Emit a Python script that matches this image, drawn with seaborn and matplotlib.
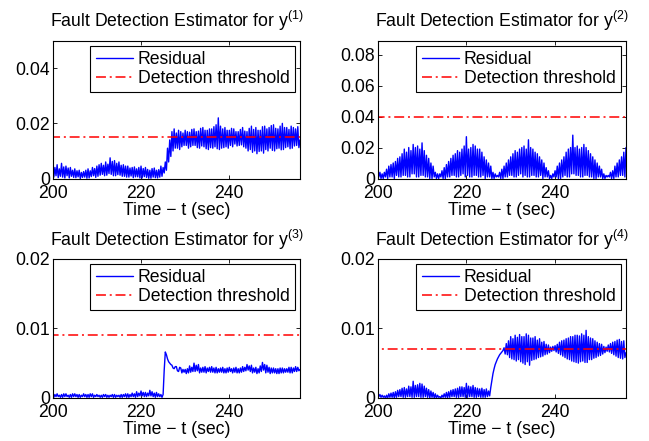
import numpy as np
import pandas as pd
import matplotlib
matplotlib.use("Agg")
import matplotlib.pyplot as plt
from matplotlib.ticker import FuncFormatter
import seaborn as sns

# ---- data, one row = one second, 4 samples ----
t_start = 200.0
t_step = 0.25
x_limits = (200, 256)
x_ticks = [200, 220, 240]

residual_y1 = [
    0.0045, 0.0005, 0.0040, 0.0010,
    0.0050, 0.0003, 0.0035, 0.0008,
    0.0055, 0.0005, 0.0042, 0.0002,
    0.0045, 0.0010, 0.0038, 0.0002,
    0.0040, 0.0008, 0.0030, 0.0004,
    0.0035, 0.0003, 0.0028, 0.0006,
    0.0030, 0.0000, 0.0022, 0.0004,
    0.0025, 0.0005, 0.0030, 0.0001,
    0.0035, 0.0002, 0.0028, 0.0007,
    0.0040, 0.0010, 0.0036, 0.0004,
    0.0045, 0.0008, 0.0050, 0.0012,
    0.0055, 0.0015, 0.0048, 0.0010,
    0.0060, 0.0012, 0.0052, 0.0018,
    0.0075, 0.0015, 0.0062, 0.0010,
    0.0065, 0.0010, 0.0055, 0.0014,
    0.0060, 0.0012, 0.0048, 0.0008,
    0.0050, 0.0008, 0.0045, 0.0005,
    0.0045, 0.0005, 0.0038, 0.0009,
    0.0040, 0.0003, 0.0042, 0.0006,
    0.0035, 0.0006, 0.0040, 0.0002,
    0.0045, 0.0002, 0.0036, 0.0007,
    0.0040, 0.0004, 0.0033, 0.0001,
    0.0030, 0.0001, 0.0036, 0.0005,
    0.0038, 0.0003, 0.0030, 0.0002,
    0.0032, 0.0005, 0.0045, 0.0008,
    0.0040, 0.0020, 0.0060, 0.0030,
    0.0110, 0.0060, 0.0140, 0.0080,
    0.0170, 0.0100, 0.0180, 0.0110,
    0.0165, 0.0110, 0.0175, 0.0105,
    0.0170, 0.0115, 0.0165, 0.0120,
    0.0175, 0.0120, 0.0170, 0.0110,
    0.0168, 0.0115, 0.0178, 0.0120,
    0.0180, 0.0120, 0.0170, 0.0112,
    0.0172, 0.0110, 0.0182, 0.0118,
    0.0185, 0.0115, 0.0175, 0.0108,
    0.0175, 0.0105, 0.0180, 0.0112,
    0.0180, 0.0110, 0.0188, 0.0115,
    0.0195, 0.0108, 0.0220, 0.0105,
    0.0190, 0.0110, 0.0180, 0.0112,
    0.0185, 0.0115, 0.0175, 0.0110,
    0.0175, 0.0120, 0.0182, 0.0115,
    0.0180, 0.0125, 0.0170, 0.0118,
    0.0170, 0.0120, 0.0178, 0.0122,
    0.0185, 0.0115, 0.0172, 0.0110,
    0.0170, 0.0100, 0.0182, 0.0105,
    0.0190, 0.0095, 0.0178, 0.0100,
    0.0185, 0.0090, 0.0175, 0.0098,
    0.0175, 0.0100, 0.0188, 0.0092,
    0.0190, 0.0105, 0.0180, 0.0100,
    0.0185, 0.0110, 0.0192, 0.0102,
    0.0195, 0.0100, 0.0182, 0.0108,
    0.0180, 0.0110, 0.0190, 0.0104,
    0.0200, 0.0105, 0.0185, 0.0112,
    0.0185, 0.0115, 0.0178, 0.0108,
    0.0190, 0.0110, 0.0185, 0.0118,
    0.0180, 0.0120, 0.0188, 0.0112,
    0.0140,
]

residual_y2 = [
    0.006, 0.001, 0.004, 0.000,
    0.003, 0.000, 0.004, 0.001,
    0.006, 0.000, 0.008, 0.001,
    0.009, 0.001, 0.010, 0.000,
    0.011, 0.002, 0.013, 0.001,
    0.014, 0.001, 0.016, 0.002,
    0.019, 0.002, 0.017, 0.001,
    0.020, 0.001, 0.018, 0.003,
    0.022, 0.003, 0.020, 0.001,
    0.021, 0.001, 0.019, 0.002,
    0.023, 0.002, 0.018, 0.001,
    0.015, 0.001, 0.013, 0.000,
    0.010, 0.000, 0.008, 0.001,
    0.004, 0.000, 0.003, 0.000,
    0.003, 0.001, 0.005, 0.000,
    0.007, 0.000, 0.009, 0.001,
    0.011, 0.001, 0.013, 0.002,
    0.015, 0.002, 0.016, 0.001,
    0.018, 0.001, 0.017, 0.002,
    0.019, 0.003, 0.021, 0.001,
    0.027, 0.002, 0.019, 0.001,
    0.020, 0.001, 0.022, 0.002,
    0.021, 0.002, 0.019, 0.001,
    0.019, 0.001, 0.017, 0.002,
    0.014, 0.000, 0.012, 0.001,
    0.010, 0.001, 0.008, 0.000,
    0.004, 0.000, 0.003, 0.001,
    0.002, 0.001, 0.004, 0.000,
    0.006, 0.000, 0.008, 0.001,
    0.010, 0.001, 0.012, 0.002,
    0.014, 0.002, 0.016, 0.001,
    0.018, 0.001, 0.017, 0.002,
    0.019, 0.003, 0.020, 0.001,
    0.021, 0.002, 0.019, 0.001,
    0.025, 0.001, 0.020, 0.002,
    0.019, 0.002, 0.017, 0.001,
    0.016, 0.001, 0.014, 0.002,
    0.012, 0.000, 0.010, 0.001,
    0.007, 0.001, 0.005, 0.000,
    0.002, 0.000, 0.003, 0.001,
    0.005, 0.001, 0.008, 0.000,
    0.010, 0.000, 0.012, 0.001,
    0.014, 0.002, 0.017, 0.001,
    0.019, 0.001, 0.020, 0.003,
    0.028, 0.003, 0.020, 0.002,
    0.021, 0.002, 0.019, 0.001,
    0.020, 0.001, 0.022, 0.002,
    0.020, 0.002, 0.018, 0.001,
    0.016, 0.001, 0.014, 0.000,
    0.012, 0.000, 0.010, 0.001,
    0.008, 0.001, 0.006, 0.000,
    0.003, 0.000, 0.002, 0.001,
    0.002, 0.001, 0.004, 0.000,
    0.005, 0.000, 0.008, 0.001,
    0.010, 0.001, 0.012, 0.002,
    0.014, 0.002, 0.017, 0.001,
    0.020,
]

residual_y3 = [
    0.0008, 0.0001, 0.0005, 0.0002,
    0.0006, 0.0002, 0.0004, 0.0001,
    0.0005, 0.0001, 0.0006, 0.0002,
    0.0006, 0.0002, 0.0004, 0.0001,
    0.0005, 0.0001, 0.0006, 0.0002,
    0.0006, 0.0002, 0.0005, 0.0001,
    0.0005, 0.0001, 0.0004, 0.0002,
    0.0006, 0.0002, 0.0005, 0.0001,
    0.0005, 0.0001, 0.0006, 0.0002,
    0.0006, 0.0001, 0.0004, 0.0002,
    0.0005, 0.0002, 0.0004, 0.0001,
    0.0004, 0.0001, 0.0005, 0.0002,
    0.0005, 0.0001, 0.0004, 0.0001,
    0.0004, 0.0002, 0.0005, 0.0001,
    0.0005, 0.0001, 0.0004, 0.0002,
    0.0004, 0.0001, 0.0005, 0.0001,
    0.0005, 0.0002, 0.0006, 0.0001,
    0.0006, 0.0001, 0.0005, 0.0002,
    0.0007, 0.0002, 0.0006, 0.0001,
    0.0009, 0.0002, 0.0007, 0.0003,
    0.0010, 0.0003, 0.0008, 0.0002,
    0.0008, 0.0002, 0.0007, 0.0003,
    0.0011, 0.0003, 0.0009, 0.0002,
    0.0007, 0.0001, 0.0008, 0.0002,
    0.0006, 0.0002, 0.0005, 0.0001,
    0.0005, 0.0040, 0.0066, 0.0062,
    0.0056, 0.0052, 0.0050, 0.0048,
    0.0047, 0.0043, 0.0042, 0.0045,
    0.0045, 0.0039, 0.0038, 0.0044,
    0.0043, 0.0036, 0.0041, 0.0037,
    0.0041, 0.0035, 0.0042, 0.0036,
    0.0046, 0.0037, 0.0044, 0.0038,
    0.0050, 0.0038, 0.0047, 0.0039,
    0.0048, 0.0036, 0.0043, 0.0037,
    0.0044, 0.0037, 0.0045, 0.0036,
    0.0043, 0.0038, 0.0044, 0.0037,
    0.0045, 0.0037, 0.0043, 0.0036,
    0.0044, 0.0036, 0.0042, 0.0037,
    0.0043, 0.0037, 0.0044, 0.0036,
    0.0042, 0.0036, 0.0043, 0.0037,
    0.0044, 0.0038, 0.0042, 0.0036,
    0.0043, 0.0037, 0.0044, 0.0036,
    0.0042, 0.0036, 0.0043, 0.0037,
    0.0045, 0.0038, 0.0044, 0.0039,
    0.0048, 0.0040, 0.0046, 0.0038,
    0.0047, 0.0036, 0.0043, 0.0037,
    0.0044, 0.0035, 0.0042, 0.0036,
    0.0046, 0.0038, 0.0051, 0.0040,
    0.0048, 0.0036, 0.0047, 0.0037,
    0.0044, 0.0035, 0.0043, 0.0036,
    0.0043, 0.0036, 0.0042, 0.0035,
    0.0042, 0.0035, 0.0043, 0.0036,
    0.0043, 0.0036, 0.0042, 0.0037,
    0.0042, 0.0037, 0.0044, 0.0036,
    0.0044, 0.0036, 0.0043, 0.0038,
    0.0045, 0.0038, 0.0044, 0.0039,
    0.0041,
]

residual_y4 = [
    0.0006, 0.0002, 0.0005, 0.0001,
    0.0004, 0.0001, 0.0003, 0.0000,
    0.0004, 0.0000, 0.0006, 0.0001,
    0.0007, 0.0001, 0.0008, 0.0000,
    0.0009, 0.0001, 0.0011, 0.0002,
    0.0012, 0.0002, 0.0014, 0.0001,
    0.0015, 0.0001, 0.0013, 0.0002,
    0.0017, 0.0002, 0.0016, 0.0001,
    0.0024, 0.0001, 0.0018, 0.0002,
    0.0019, 0.0002, 0.0021, 0.0001,
    0.0020, 0.0001, 0.0017, 0.0002,
    0.0014, 0.0001, 0.0012, 0.0000,
    0.0010, 0.0001, 0.0008, 0.0000,
    0.0006, 0.0000, 0.0004, 0.0001,
    0.0002, 0.0000, 0.0004, 0.0001,
    0.0006, 0.0001, 0.0008, 0.0000,
    0.0009, 0.0001, 0.0011, 0.0002,
    0.0012, 0.0002, 0.0013, 0.0001,
    0.0014, 0.0001, 0.0016, 0.0002,
    0.0016, 0.0002, 0.0015, 0.0001,
    0.0021, 0.0001, 0.0017, 0.0002,
    0.0016, 0.0002, 0.0018, 0.0001,
    0.0015, 0.0001, 0.0014, 0.0002,
    0.0013, 0.0001, 0.0014, 0.0001,
    0.0012, 0.0001, 0.0013, 0.0002,
    0.0010, 0.0003, 0.0015, 0.0025,
    0.0035, 0.0042, 0.0048, 0.0052,
    0.0056, 0.0059, 0.0062, 0.0064,
    0.0066, 0.0068, 0.0072, 0.0063,
    0.0078, 0.0062, 0.0082, 0.0058,
    0.0088, 0.0056, 0.0085, 0.0055,
    0.0090, 0.0053, 0.0087, 0.0055,
    0.0091, 0.0052, 0.0088, 0.0050,
    0.0088, 0.0048, 0.0092, 0.0052,
    0.0090, 0.0047, 0.0086, 0.0054,
    0.0086, 0.0055, 0.0088, 0.0056,
    0.0083, 0.0058, 0.0085, 0.0059,
    0.0080, 0.0060, 0.0081, 0.0062,
    0.0077, 0.0063, 0.0076, 0.0065,
    0.0073, 0.0067, 0.0074, 0.0068,
    0.0075, 0.0066, 0.0077, 0.0064,
    0.0080, 0.0062, 0.0082, 0.0060,
    0.0083, 0.0058, 0.0085, 0.0056,
    0.0086, 0.0055, 0.0088, 0.0053,
    0.0088, 0.0052, 0.0090, 0.0051,
    0.0090, 0.0050, 0.0089, 0.0052,
    0.0092, 0.0053, 0.0090, 0.0051,
    0.0097, 0.0051, 0.0088, 0.0055,
    0.0086, 0.0055, 0.0085, 0.0057,
    0.0082, 0.0058, 0.0080, 0.0060,
    0.0078, 0.0061, 0.0077, 0.0063,
    0.0074, 0.0065, 0.0073, 0.0067,
    0.0076, 0.0066, 0.0078, 0.0064,
    0.0080, 0.0062, 0.0081, 0.0060,
    0.0083, 0.0058, 0.0084, 0.0057,
    0.0081, 0.0056, 0.0082, 0.0058,
    0.0065,
]

thresholds = [0.015, 0.04, 0.009, 0.007]
y_limits = [(0, 0.05), (0, 0.089), (0, 0.02), (0, 0.02)]
y_ticks = [[0, 0.02, 0.04], [0, 0.02, 0.04, 0.06, 0.08], [0, 0.01, 0.02], [0, 0.01, 0.02]]
titles = ["Fault Detection Estimator for y$^{(1)}$",
          "Fault Detection Estimator for y$^{(2)}$",
          "Fault Detection Estimator for y$^{(3)}$",
          "Fault Detection Estimator for y$^{(4)}$"]
x_label = "Time \u2212 t (sec)"
legend_labels = ["Residual", "Detection threshold"]

residuals = [residual_y1, residual_y2, residual_y3, residual_y4]

# ---- style ----
sns.set_theme(style="white")
plt.rcParams["font.family"] = ["Liberation Sans", "DejaVu Sans"]
plt.rcParams["mathtext.fontset"] = "custom"
plt.rcParams["mathtext.rm"] = "Liberation Sans"
plt.rcParams["mathtext.default"] = "regular"
for k in ["text.color", "axes.labelcolor", "xtick.color", "ytick.color", "axes.edgecolor"]:
    plt.rcParams[k] = "black"
FS = 12.7

fig = plt.figure(figsize=(6.49, 4.41), dpi=100)
fig.patch.set_facecolor("white")

positions = [
    [52.7 / 649, 1 - 178.5 / 441, 247.3 / 649, 137.8 / 441],
    [377.7 / 649, 1 - 178.5 / 441, 248.3 / 649, 137.8 / 441],
    [52.7 / 649, 1 - 398.0 / 441, 247.3 / 649, 139.5 / 441],
    [377.7 / 649, 1 - 398.0 / 441, 248.3 / 649, 139.5 / 441],
]
title_pads = [10, 10, 9, 9]

dashdot = (0, (6.5, 2.5, 1.3, 2.5))

for i in range(4):
    ax = fig.add_axes(positions[i])
    ax.set_facecolor("white")
    vals = np.asarray(residuals[i], dtype=float)
    t = t_start + t_step * np.arange(len(vals))
    df = pd.DataFrame({"t": t, "r": vals})
    sns.lineplot(data=df, x="t", y="r", ax=ax, color="#0000ff", lw=1.0,
                 estimator=None, sort=False, label=legend_labels[0])
    thr_t = np.r_[t[0], t]
    thr_v = np.r_[0.0, np.full(len(t), thresholds[i])]
    dft = pd.DataFrame({"t": thr_t, "v": thr_v})
    sns.lineplot(data=dft, x="t", y="v", ax=ax, color="#ff0000", lw=1.1,
                 estimator=None, sort=False, linestyle=dashdot,
                 label=legend_labels[1])

    ax.set_xlim(*x_limits)
    ax.set_ylim(*y_limits[i])
    ax.set_xticks(x_ticks)
    ax.set_yticks(y_ticks[i])
    ax.yaxis.set_major_formatter(FuncFormatter(lambda v, p: "%g" % v))
    ax.tick_params(axis="both", which="both", direction="in", length=3,
                   width=0.6, colors="black", labelsize=FS,
                   top=True, right=True, bottom=True, left=True)
    ax.tick_params(axis="x", pad=4.5)
    ax.tick_params(axis="y", pad=2)
    for s in ax.spines.values():
        s.set_visible(True)
        s.set_color("black")
        s.set_linewidth(0.8)
    ax.set_xlabel(x_label, fontsize=FS, labelpad=0, color="black")
    ax.set_ylabel("")
    ax.set_title(titles[i], fontsize=FS, pad=title_pads[i], color="black")
    ax.grid(False)

    leg = ax.legend(loc="upper right", bbox_to_anchor=(0.98, 0.963),
                    fontsize=FS, frameon=True, fancybox=False,
                    borderpad=0.3, labelspacing=0.1, handlelength=2.1,
                    handletextpad=0.3, borderaxespad=0.0)
    leg.get_frame().set_edgecolor("black")
    leg.get_frame().set_linewidth(0.8)
    leg.get_frame().set_alpha(1.0)
    for txt in leg.get_texts():
        txt.set_color("black")

fig.savefig("out.png", dpi=100)
